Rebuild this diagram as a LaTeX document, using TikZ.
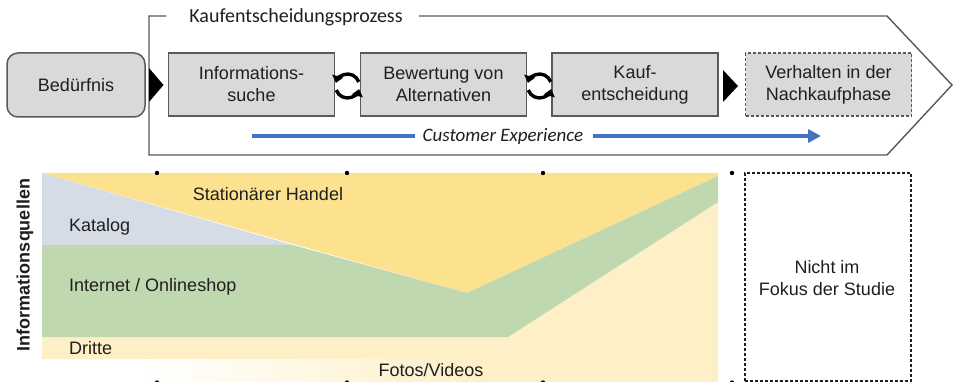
\documentclass[tikz,border=0pt]{standalone}
\usepackage{fontspec}
\setmainfont{Liberation Sans}
\newfontfamily\calibri{Carlito}
\usetikzlibrary{arrows.meta,shadings}
\definecolor{frameg}{HTML}{595959}
\definecolor{boxfill}{HTML}{D9D9D9}
\definecolor{txt}{HTML}{1F1F1F}
\definecolor{statyel}{HTML}{FCE18F}
\definecolor{katblue}{HTML}{D6DCE5}
\definecolor{netgreen}{HTML}{BFD8B0}
\definecolor{lightyel}{HTML}{FDEFC6}
\definecolor{cxblue}{HTML}{4472C4}
\begin{document}
\begin{tikzpicture}[x=1pt,y=-1pt,
  every node/.style={text=txt,font=\fontsize{18}{22}\selectfont},
  procbox/.style={draw=frameg,line width=1.5pt,fill=boxfill,minimum width=166pt,minimum height=63pt,inner sep=0pt,align=center},
  cyc/.style={line width=3.4pt,-{Triangle[length=7pt,width=11pt]}},
  tri/.style={fill=black},
  cxline/.style={draw=cxblue,line width=4pt},
  lbl/.style={anchor=west,inner sep=0pt},
  fine dash/.style={dash pattern=on 3pt off 2pt},
  dot/.style={fill=black}]
\useasboundingbox (0,0) rectangle (953,382);
% ---------- top: process ----------
\node[draw=frameg,line width=1.5pt,fill=boxfill,rounded corners=11pt,minimum width=138pt,minimum height=64pt,inner sep=0pt] (bed) at (76,85) {Bedürfnis};
\node[procbox] (info) at (251.5,84.5) {Informations-\\suche};
\node[procbox] (bew) at (443.5,84.5) {Bewertung von\\Alternativen};
\node[procbox] (kauf) at (635,84.5) {Kauf-\\entscheidung};
\node[procbox,fine dash] (verh) at (828.5,84.5) {Verhalten in der\\Nachkaufphase};
% frame
\node[font=\calibri\fontsize{20}{24}\selectfont,text=txt,inner sep=0pt] (title) at (296,17) {Kaufentscheidungsprozess};
\coordinate (fl) at (149,16);
\draw[frameg,line width=1.4pt] (166,16) -- (fl) -- (149,155) -- (887,155) -- (952,85) -- (887,16) -- (419,16);
% triangles
\fill[tri] (149,68) -- (163.5,85) -- (149,102) -- cycle;
\fill[tri] (723,70) -- (738,86) -- (723,102) -- cycle;
% cycle icons
\foreach \cx in {347.5,539.5}{
  \draw[cyc] (\cx,86) ++(160:12) arc[start angle=160,end angle=15,radius=12];
  \draw[cyc] (\cx,86) ++(-20:12) arc[start angle=-20,end angle=-165,radius=12];
}
% customer experience
\node[font=\calibri\itshape\fontsize{19}{22}\selectfont,text=txt] (cx) at (503,136) {Customer Experience};
\coordinate (cxa) at (252,136);
\coordinate (cxb) at (821,136);
\draw[cxline] (cxa) -- ([xshift=-4pt]cx.west);
\draw[cxline,-{Triangle[length=13pt,width=13pt]}] ([xshift=6pt]cx.east) -- (cxb);
% ---------- bottom: sources ----------
\fill[lightyel] (42,337) -- (508,337) -- (718,202) -- (718,382) -- (480,382) -- (480,359) -- (42,359) -- cycle;
\shade[left color=white,right color=lightyel] (140,359) rectangle (481,382);
\fill[statyel] (42,173) -- (718,173) -- (718,176) -- (467,293) -- cycle;
\fill[katblue] (42,173) -- (293,245) -- (42,245) -- cycle;
\fill[netgreen] (42,245) -- (293,245) -- (467,293) -- (718,176) -- (718,202) -- (508,337) -- (42,337) -- cycle;
\node[inner sep=0pt] (stat) at (268,194) {Stationärer Handel};
\node[lbl] (kat) at (69,227) {Katalog};
\node[lbl] (net) at (69,287) {Internet / Onlineshop};
\node[lbl] (dri) at (69,348) {Dritte};
\node[inner sep=0pt] (foto) at (431,370) {Fotos/Videos};
\node[rotate=90,font=\bfseries\fontsize{18}{22}\selectfont,inner sep=0pt] (iq) at (25,265) {Informationsquellen};
% dots
\foreach \dx in {157,347,543,732}{
  \fill[dot] (\dx,173) circle (2.2pt);
  \fill[dot] (\dx,382.5) circle (2.2pt);
}
% not in focus
\node[draw=txt,line width=1.4pt,fine dash,minimum width=166pt,minimum height=208pt,inner sep=0pt] (nf) at (828,277) {};
\node[align=center,inner sep=0pt] (nft) at (827,278) {Nicht im\\Fokus der Studie};
\end{tikzpicture}
\end{document}
